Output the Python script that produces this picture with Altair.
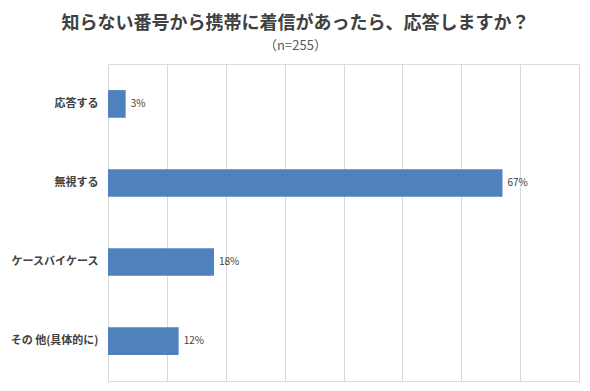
import altair as alt
import pandas as pd

categories = ["応答する", "無視する", "ケースバイケース", "その 他(具体的に)"]
values = [0.03, 0.67, 0.18, 0.12]
value_labels = ["3%", "67%", "18%", "12%"]

df = pd.DataFrame({"cat": categories, "val": values, "lab": value_labels})

FONT = "Noto Sans CJK JP"
TXT = "#404040"

y_enc = alt.Y("cat:N", sort=categories, title=None,
              scale=alt.Scale(paddingInner=0.65, paddingOuter=0.33),
              axis=alt.Axis(domain=False, ticks=False, labelPadding=10,
                            labelFont=FONT, labelFontSize=11, labelFontWeight="bold",
                            labelColor=TXT))
x_enc = alt.X("val:Q", title=None,
              scale=alt.Scale(domain=[0, 0.8], nice=False),
              axis=alt.Axis(values=[0, .1, .2, .3, .4, .5, .6, .7, .8], labels=False,
                            ticks=False, domain=False, grid=True,
                            gridColor="#d9d9d9", gridWidth=1))

bars = alt.Chart(df).mark_bar(color="#4f81bd").encode(x=x_enc, y=y_enc)
text = alt.Chart(df).mark_text(align="left", baseline="middle", dx=5,
                               font=FONT, fontSize=10, color=TXT).encode(
    x="val:Q", y=alt.Y("cat:N", sort=categories), text="lab:N")

chart = (bars + text).properties(
    width=471, height=317,
    title=alt.TitleParams(
        text="知らない番号から携帯に着信があったら、応答しますか？",
        subtitle="（n=255）",
        font=FONT, fontSize=18, fontWeight="bold", color="#404040",
        subtitleFont=FONT, subtitleFontSize=13, subtitleColor="#595959",
        subtitlePadding=7, anchor="middle", dx=-48, offset=11),
    padding={"left": 100, "top": 56, "right": 3, "bottom": 2},
    autosize=alt.AutoSizeParams(type="none"),
).configure_view(stroke=None).configure(background="white")

chart.save("out.html", embed_options={"renderer": "svg", "actions": False})
